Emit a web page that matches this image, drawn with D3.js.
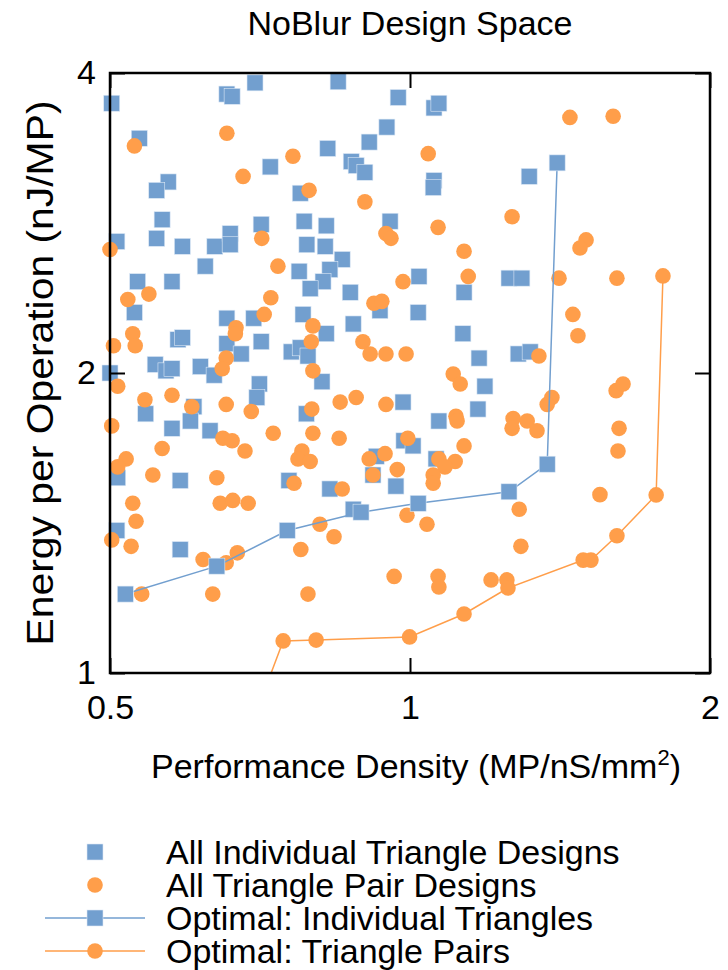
<!DOCTYPE html>
<html>
<head>
<meta charset="utf-8">
<script src="https://cdn.jsdelivr.net/npm/d3@7"></script>
<style>
  html, body { margin: 0; padding: 0; background: #fff; }
  svg text { font-family: "Liberation Sans", Arial, Helvetica, sans-serif; fill: #000; }
</style>
</head>
<body>
<svg id="chart" width="728" height="970"></svg>
<script>
// ---- data (x = Performance Density MP/nS/mm2, y = Energy per Operation nJ/MP) ----
const allIndividual = [
  [0.502,3.73],[0.535,3.44],[0.655,3.81],[0.663,3.79],[0.699,3.91],[0.847,3.92],[0.973,3.78],[0.948,3.53],[0.910,3.41],[0.827,3.36],
  [0.724,3.22],[0.873,3.26],[0.883,3.23],[0.901,3.18],[0.572,3.11],[0.557,3.05],[0.776,3.03],[0.564,2.85],[0.709,2.82],[0.783,2.84],
  [0.824,2.81],[0.955,2.84],[0.508,2.71],[0.557,2.73],[0.591,2.68],[0.637,2.68],[0.660,2.76],[0.660,2.69],[0.788,2.69],[0.822,2.68],
  [0.855,2.60],[0.623,2.56],[0.774,2.53],[0.831,2.54],[0.533,2.47],[0.577,2.47],[0.818,2.47],[0.794,2.43],[0.871,2.41],[0.529,2.30],
  [0.655,2.27],[0.697,2.27],[0.781,2.29],[0.877,2.24],[0.933,2.31],[0.824,2.19],[0.585,2.16],[0.591,2.17],[0.709,2.15],[0.655,2.14],
  [0.677,2.09],[0.760,2.10],[0.776,2.12],[0.790,2.08],[0.555,2.04],[0.569,2.01],[0.577,2.02],[0.616,2.03],[0.636,1.99],[0.500,2.00],
  [0.706,1.95],[0.702,1.89],[0.816,1.96],[0.607,1.85],[0.602,1.79],[0.543,1.82],[0.577,1.76],[0.630,1.75],[0.787,1.82],[0.984,1.87],
  [0.986,1.71],[1.007,1.69],[0.925,1.65],[0.918,1.58],[0.509,1.57],[0.588,1.56],[0.756,1.56],[0.831,1.53],[0.968,1.54],[0.508,1.39],
  [0.588,1.33],[0.877,1.46],[1.057,3.69],[1.069,3.73],[1.317,3.15],[1.057,3.12],[1.055,3.07],[1.021,2.50],[1.257,2.49],[1.295,2.49],
  [1.133,2.41],[1.019,2.30],[1.130,2.19],[1.173,2.07],[1.284,2.09],[1.320,2.10],[1.189,1.94],[1.170,1.84],[1.069,1.79],[1.062,1.64]
];
const allPairs = [
  [0.529,3.38],[0.655,3.48],[0.763,3.30],[0.680,3.15],[0.792,3.05],[0.901,2.97],[0.710,2.73],[0.946,2.76],[0.957,2.73],[0.500,2.66],
  [0.737,2.56],[0.984,2.47],[0.547,2.40],[0.521,2.37],[0.725,2.38],[0.714,2.29],[0.920,2.35],[0.937,2.36],[0.669,2.22],[0.668,2.19],
  [0.799,2.23],[0.796,2.15],[0.527,2.19],[0.530,2.13],[0.504,2.13],[0.897,2.15],[0.912,2.09],[0.946,2.09],[0.991,2.09],[0.654,2.07],
  [0.648,2.02],[0.799,2.01],[0.509,1.94],[0.542,1.88],[0.577,1.90],[0.604,1.85],[0.654,1.86],[0.693,1.83],[0.797,1.84],[0.851,1.87],
  [0.883,1.89],[0.946,1.86],[0.502,1.77],[0.729,1.74],[0.799,1.74],[0.849,1.72],[0.564,1.68],[0.649,1.72],[0.663,1.71],[0.683,1.67],
  [0.995,1.72],[0.519,1.64],[0.509,1.61],[0.779,1.67],[0.772,1.64],[0.794,1.63],[0.910,1.64],[0.944,1.66],[0.971,1.60],[0.552,1.58],
  [0.640,1.57],[0.918,1.58],[0.765,1.55],[0.855,1.53],[0.527,1.48],[0.531,1.42],[0.645,1.48],[0.664,1.49],[0.688,1.48],[0.502,1.36],
  [0.525,1.34],[0.812,1.41],[0.839,1.37],[0.993,1.44],[0.777,1.33],[0.620,1.30],[0.654,1.29],[0.671,1.32],[0.538,1.20],[0.634,1.20],
  [0.790,1.20],[0.964,1.25],[1.447,3.61],[1.599,3.62],[1.043,3.32],[1.266,2.87],[1.067,2.80],[1.133,2.65],[1.502,2.72],[1.481,2.67],
  [1.144,2.50],[1.411,2.49],[1.613,2.49],[1.457,2.29],[1.474,2.18],[1.347,2.08],[1.105,1.995],[1.123,1.95],[1.610,1.92],[1.636,1.95],
  [1.388,1.89],[1.373,1.86],[1.112,1.81],[1.115,1.79],[1.269,1.80],[1.266,1.76],[1.311,1.79],[1.341,1.75],[1.621,1.76],[1.133,1.69],
  [1.617,1.67],[1.069,1.64],[1.110,1.63],[1.084,1.61],[1.055,1.58],[1.055,1.55],[1.040,1.41],[1.287,1.46],[1.292,1.34],[1.551,1.51],
  [1.067,1.25],[1.069,1.22],[1.206,1.24],[1.251,1.24]
];
const optimalIndividual = [
  [0.518,1.20],[0.640,1.28],[0.753,1.39],[0.893,1.45],[1.019,1.48],[1.257,1.52],[1.373,1.62],[1.405,3.25]
];
const optimalPairs = [
  [0.710,0.944],[0.746,1.077],[0.805,1.079],[0.999,1.087],[1.133,1.146],[1.254,1.217],[1.492,1.298],[1.519,1.298],
  [1.613,1.373],[1.766,1.509],[1.794,2.503]
];
const xTickValues = [0.5, 1, 2];
const xTickLabels = ["0.5", "1", "2"];
const yTickValues = [1, 2, 4];
const yTickLabels = ["1", "2", "4"];
const legendLabels = [
  "All Individual Triangle Designs",
  "All Triangle Pair Designs",
  "Optimal: Individual Triangles",
  "Optimal: Triangle Pairs"
];

// ---- layout / style ----
const BLUE = "#729fcf", ORANGE = "#ff9e4a";
const plot = { left: 110, right: 710, top: 73, bottom: 673 };
const FS = 34;
const SQ = 16, R = 7.8;

const svg = d3.select("#chart");
const x = d3.scaleLog().domain([0.5, 2]).range([plot.left, plot.right]);
const y = d3.scaleLog().domain([1, 4]).range([plot.bottom, plot.top]);

svg.append("defs").append("clipPath").attr("id", "clip")
  .append("rect").attr("x", plot.left).attr("y", plot.top)
  .attr("width", plot.right - plot.left).attr("height", plot.bottom - plot.top);

const inDomain = d => d[0] >= 0.5 && d[0] <= 2 && d[1] >= 1 && d[1] <= 4;

function squares(g, data, color) {
  g.selectAll(null).data(data.filter(inDomain)).enter().append("rect")
    .attr("x", d => x(d[0]) - SQ / 2).attr("y", d => y(d[1]) - SQ / 2)
    .attr("width", SQ).attr("height", SQ)
    .attr("fill", color).attr("stroke", "#dce8f5").attr("stroke-width", 0.6);
}
function circles(g, data, color) {
  g.selectAll(null).data(data.filter(inDomain)).enter().append("circle")
    .attr("cx", d => x(d[0])).attr("cy", d => y(d[1])).attr("r", R)
    .attr("fill", color);
}
const line = d3.line().x(d => x(d[0])).y(d => y(d[1]));

// scatter series
squares(svg.append("g"), allIndividual, BLUE);
circles(svg.append("g"), allPairs, ORANGE);
// optimal series
svg.append("path").datum(optimalIndividual).attr("d", line)
  .attr("fill", "none").attr("stroke", BLUE).attr("stroke-width", 1.5).attr("clip-path", "url(#clip)");
squares(svg.append("g"), optimalIndividual, BLUE);
svg.append("path").datum(optimalPairs).attr("d", line)
  .attr("fill", "none").attr("stroke", ORANGE).attr("stroke-width", 1.5).attr("clip-path", "url(#clip)");
circles(svg.append("g"), optimalPairs, ORANGE);

// frame
svg.append("rect").attr("x", plot.left).attr("y", plot.top)
  .attr("width", plot.right - plot.left).attr("height", plot.bottom - plot.top)
  .attr("fill", "none").attr("stroke", "#000").attr("stroke-width", 2.5);

// axes (inward ticks)
function styleAxis(g) {
  g.select(".domain").remove();
  g.selectAll(".tick line").attr("stroke", "#000").attr("stroke-width", 2);
  g.selectAll(".tick text").attr("font-size", FS).attr("font-family", "Liberation Sans, Arial, sans-serif").attr("fill", "#000");
}
svg.append("g").attr("transform", `translate(0,${plot.bottom})`)
  .call(d3.axisBottom(x).tickValues(xTickValues).tickFormat((d, i) => xTickLabels[i])
    .tickSizeInner(-15).tickSizeOuter(0).tickPadding(22))
  .call(styleAxis);
svg.append("g").attr("transform", `translate(0,${plot.top})`)
  .call(d3.axisTop(x).tickValues(xTickValues).tickFormat("").tickSizeInner(-15).tickSizeOuter(0))
  .call(styleAxis);
svg.append("g").attr("transform", `translate(${plot.left},0)`)
  .call(d3.axisLeft(y).tickValues(yTickValues).tickFormat((d, i) => yTickLabels[i])
    .tickSizeInner(-15).tickSizeOuter(0).tickPadding(14))
  .call(styleAxis);
svg.append("g").attr("transform", `translate(${plot.right},0)`)
  .call(d3.axisRight(y).tickValues(yTickValues).tickFormat("").tickSizeInner(-15).tickSizeOuter(0))
  .call(styleAxis);

// title & axis labels
svg.append("text").attr("x", 410).attr("y", 35).attr("text-anchor", "middle")
  .attr("font-size", FS).text("NoBlur Design Space");
const xl = svg.append("text").attr("x", 416).attr("y", 778).attr("text-anchor", "middle").attr("font-size", FS);
xl.append("tspan").text("Performance Density (MP/nS/mm");
xl.append("tspan").attr("font-size", 22).attr("dy", -13).text("2");
xl.append("tspan").attr("dy", 13).text(")");
svg.append("text").attr("transform", "translate(53,373) rotate(-90)")
  .attr("text-anchor", "middle").attr("font-size", 36)
  .attr("textLength", 545).attr("lengthAdjust", "spacingAndGlyphs")
  .text("Energy per Operation (nJ/MP)");

// legend
const legY = [852, 885, 918, 951];
const lg = svg.append("g");
legendLabels.forEach((t, i) => {
  const cy = legY[i];
  const color = (i % 2 === 0) ? BLUE : ORANGE;
  if (i >= 2) {
    lg.append("line").attr("x1", 45).attr("x2", 145).attr("y1", cy).attr("y2", cy)
      .attr("stroke", color).attr("stroke-width", 1.5);
  }
  if (i % 2 === 0) {
    lg.append("rect").attr("x", 95 - SQ / 2).attr("y", cy - SQ / 2).attr("width", SQ).attr("height", SQ)
      .attr("fill", color).attr("stroke", "#dce8f5").attr("stroke-width", 0.6);
  } else {
    lg.append("circle").attr("cx", 95).attr("cy", cy).attr("r", R).attr("fill", color);
  }
  lg.append("text").attr("x", 166).attr("y", cy + 12).attr("font-size", FS).text(t);
});
</script>
</body>
</html>
